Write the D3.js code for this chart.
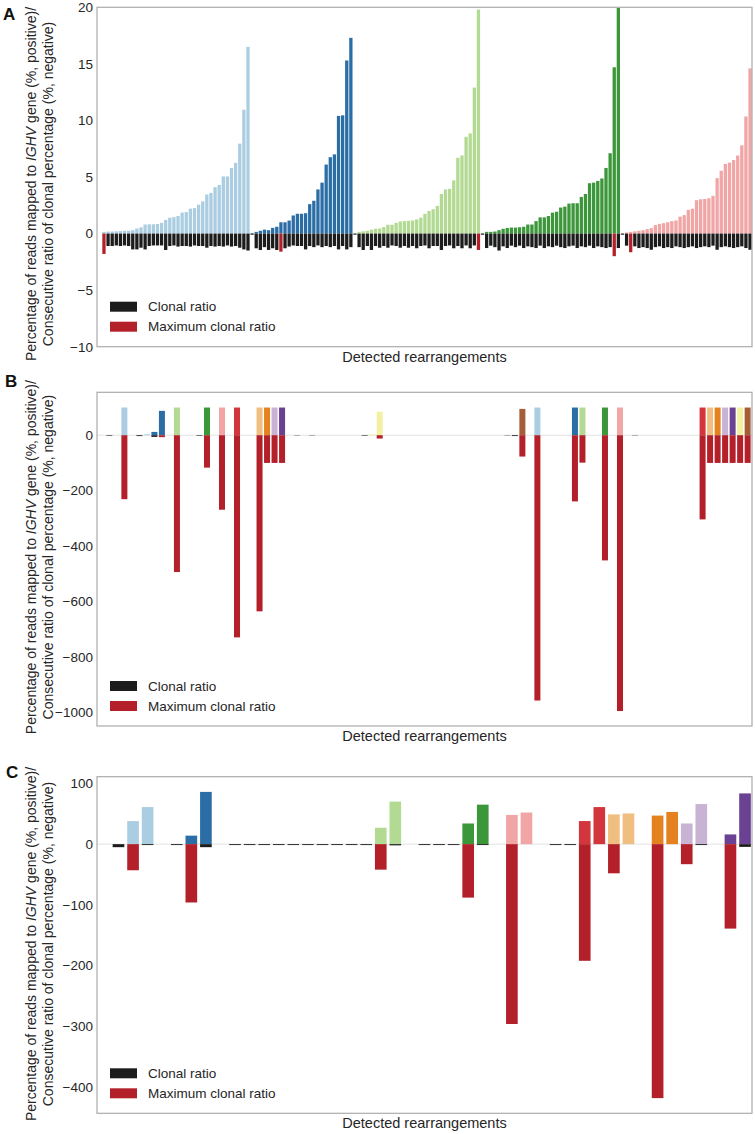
<!DOCTYPE html>
<html>
<head>
<meta charset="utf-8">
<script src="https://cdn.jsdelivr.net/npm/d3@7"></script>
<style>
  body { margin: 0; background: #fff; }
  svg { display: block; font-family: "Liberation Sans", Arial, sans-serif; }
</style>
</head>
<body>
<svg width="755" height="1134"></svg>
<script>
// Цвета групп перестроек
const groupColors = {
    lightblue: "#abcde2", darkblue: "#2b6ea6", lightgreen: "#b3da92", darkgreen: "#3c963a",
    pink: "#f1a5a5", red: "#d2353b", lightorange: "#f0be7e", orange: "#e5821f",
    lavender: "#c8b3d5", purple: "#6a4193", yellow: "#f4f0a2", brown: "#a65c36"
};
const clonalColor = "#1c1c1c";
const maxColor = "#b3202a";

// ---- Panel A ----
const aGroups = ["lightblue", "darkblue", "lightgreen", "darkgreen", "pink"];
const aPercent = [
    [0.15, 0.18, 0.18, 0.2, 0.22, 0.25, 0.25, 0.3, 0.45, 0.55, 0.8, 0.82, 0.82, 0.85, 0.95, 1.2, 1.4, 1.45,
     1.55, 1.85, 1.9, 2.2, 2.25, 2.55, 2.85, 3.45, 3.6, 4.1, 4.3, 5.05, 5.05, 5.8, 6.25, 7.95, 10.95, 16.5],
    [0.03, 0.15, 0.25, 0.35, 0.3, 0.5, 0.6, 1.0, 1.0, 1.15, 1.6, 1.75, 1.75, 1.8, 2.6, 2.9, 3.9, 4.5,
     6.1, 6.75, 7.0, 10.4, 10.45, 15.3, 17.3],
    [0.03, 0.15, 0.2, 0.25, 0.35, 0.42, 0.45, 0.57, 0.78, 0.78, 0.95, 1.07, 1.1, 1.13, 1.16, 1.25, 1.4,
     1.75, 2.0, 2.15, 2.45, 3.5, 3.9, 3.95, 4.7, 6.7, 6.9, 8.55, 8.85, 12.9, 19.8],
    [0.03, 0.15, 0.15, 0.18, 0.3, 0.42, 0.5, 0.53, 0.53, 0.56, 0.6, 0.8, 0.8, 1.1, 1.43, 1.43, 1.55,
     1.85, 1.93, 2.3, 2.38, 2.65, 2.68, 2.68, 3.24, 3.5, 4.45, 4.5, 4.65, 4.87, 5.8, 7.1, 14.7, 19.95],
    [0.03, 0.1, 0.15, 0.2, 0.25, 0.3, 0.4, 0.48, 0.75, 0.86, 0.92, 1.0, 1.1, 1.16, 1.5, 1.63, 2.1, 2.2,
     2.95, 3.03, 3.06, 3.12, 3.33, 4.9, 5.55, 6.15, 6.27, 6.5, 6.9, 7.8, 10.35, 14.6]
];
const aRatio = [
    [-1.8, -1.1, -1.1, -1.05, -1.1, -1.05, -1.1, -1.4, -1.4, -1.25, -1.4, -1.1, -1.05, -1.05, -1.05, -1.45,
     -1.1, -1.05, -1.15, -1.1, -1.1, -1.15, -1.05, -1.1, -1.1, -1.25, -1.1, -1.15, -1.1, -1.15, -1.05,
     -1.15, -1.1, -1.25, -1.4, -1.5],
    [-0.1, -1.3, -1.45, -1.2, -1.45, -1.3, -1.45, -1.6, -1.3, -1.15, -1.05, -1.1, -1.1, -1.4, -1.1, -1.2,
     -1.05, -1.2, -1.1, -1.2, -1.1, -1.4, -1.1, -1.4, -1.2],
    [-0.1, -1.2, -1.45, -1.1, -1.45, -1.1, -1.25, -1.1, -1.25, -1.05, -1.1, -1.25, -1.1, -1.25, -1.1, -1.3,
     -1.1, -1.05, -1.3, -1.1, -1.1, -1.45, -1.1, -1.05, -1.3, -1.1, -1.3, -1.05, -1.3, -1.05, -1.45],
    [-0.1, -1.28, -1.07, -1.2, -1.5, -1.13, -1.28, -1.07, -1.2, -1.07, -1.28, -1.13, -1.2, -1.28, -1.07,
     -1.28, -1.13, -1.2, -1.07, -1.2, -1.28, -1.13, -1.07, -1.28, -1.13, -1.2, -1.07, -1.28, -1.13, -1.2,
     -1.28, -1.2, -2.0, -1.28],
    [-0.1, -1.07, -1.65, -1.13, -1.28, -1.2, -1.28, -1.43, -1.2, -1.13, -1.28, -1.2, -1.28, -1.13, -1.2,
     -1.28, -1.2, -1.13, -1.28, -1.2, -1.13, -1.2, -1.07, -1.43, -1.2, -1.13, -1.2, -1.28, -1.2, -1.13,
     -1.28, -1.43]
];
const aMaxIndex = [0, 7, 30, 32, 2];
const aTicks = [20, 15, 10, 5, 0, -5, -10];

// ---- Panel B ----
const bCount = 86;
const bIndex   = [0, 2, 4, 5, 6, 7, 9, 12, 13, 15, 17, 20, 21, 22, 23, 25, 27, 34, 35, 36,
                  53, 54, 55, 57, 62, 63, 66, 68, 70, 79, 80, 81, 82, 83, 84, 85];
const bGroup   = [null, "lightblue", null, "lightblue", "darkblue", "darkblue", "lightgreen", null,
                  "darkgreen", "pink", "red", "lightorange", "orange", "lavender", "purple", null, null,
                  null, "yellow", "yellow", null, null, "brown", "lightblue", "darkblue", "lightgreen",
                  "darkgreen", "pink", null, "red", "lightorange", "orange", "lavender", "purple",
                  "yellow", "brown"];
const bPercent = [0, 100, 0, 3, 12, 88, 100, 0, 100, 100, 100, 100, 100, 100, 100, 0, 0, 0, 3, 85,
                  0, 0, 95, 100, 100, 100, 100, 100, 0, 100, 100, 100, 100, 100, 100, 100];
const bRatio   = [-2, -231, -3, 0, -6, -7, -494, -2, -117, -269, -730, -636, -100, -100, -100, -1, -1,
                  -2, 0, -12, -1, -3, -77, -958, -239, -99, -452, -996, -1, -304, -100, -100, -100,
                  -100, -100, -100];
const bIsMax   = [0, 1, 0, 0, 0, 1, 1, 0, 1, 1, 1, 1, 1, 1, 1, 0, 0, 0, 0, 1,
                  0, 0, 1, 1, 1, 1, 1, 1, 0, 1, 1, 1, 1, 1, 1, 1];
const bTicks = [0, -200, -400, -600, -800, -1000];

// ---- Panel C ----
const cCount = 44;
const cIndex   = [0, 1, 2, 4, 5, 6, 8, 9, 10, 11, 12, 13, 14, 15, 16, 17, 18, 19, 21, 22, 23, 24, 25,
                  27, 28, 30, 31, 32, 33, 34, 35, 37, 38, 39, 40, 42, 43];
const cGroup   = [null, "lightblue", "lightblue", null, "darkblue", "darkblue", null, null, null, null,
                  null, null, null, null, null, null, "lightgreen", "lightgreen", null, null, null,
                  "darkgreen", "darkgreen", "pink", "pink", null, null, "red", "red", "lightorange",
                  "lightorange", "orange", "orange", "lavender", "lavender", "purple", "purple"];
const cPercent = [0, 38, 61, 0, 14, 86, 0, 0, 0, 0, 0, 0, 0, 0, 0, 0, 27, 70, 0, 0, 0, 34, 65,
                  48, 52, 0, 0, 38, 61, 49, 50.5, 47, 53, 34, 66, 16, 83.5];
const cRatio   = [-5, -43, -1.5, -1.5, -96, -5, -1.5, -1.5, -1.5, -1.5, -1.5, -1.5, -1.5, -1.5, -1.5,
                  -1.5, -42, -2, -1.5, -1.5, -1.5, -88, -1.5, -296, 0, -1.5, -1.5, -192, 0, -48, 0,
                  -418, 0, -33, -1.5, -139, -4.5];
const cIsMax   = [0, 1, 0, 0, 1, 0, 0, 0, 0, 0, 0, 0, 0, 0, 0, 0, 1, 0, 0, 0, 0, 1, 0, 1, 0, 0, 0,
                  1, 0, 1, 0, 1, 0, 1, 0, 1, 0];
const cTicks = [100, 0, -100, -200, -300, -400];

// сборка строк для отрисовки
function rowsA() {
    let rows = [];
    aGroups.forEach((g, gi) => {
        aPercent[gi].forEach((v, k) => {
            rows.push({ i: rows.length, group: g, pct: v, ratio: aRatio[gi][k], isMax: k === aMaxIndex[gi] });
        });
    });
    return rows;
}

function rowsSparse(index, group, pct, ratio, isMax) {
    return index.map((i, k) => ({ i: i, group: group[k], pct: pct[k], ratio: ratio[k], isMax: isMax[k] === 1 }));
}

const svg = d3.select("svg");
const frameLeft = 97, frameRight = 752;

function drawPanel(cfg, rows, count) {
    const g = svg.append("g");

    const scX = d3.scaleBand()
        .domain(d3.range(count))
        .range(cfg.band)
        .paddingInner(0.2)
        .paddingOuter(0.1);

    const scY = d3.scaleLinear()
        .domain(cfg.yDomain)
        .range([cfg.bottom, cfg.top]);

    if (cfg.zeroLine) {
        g.append("line")
            .attr("x1", frameLeft).attr("x2", frameRight)
            .attr("y1", scY(0)).attr("y2", scY(0))
            .attr("stroke", "#e2e2e2").attr("stroke-width", 1);
    }

    // положительные столбцы (процент прочтений)
    g.selectAll(".pos")
        .data(rows.filter(d => d.pct > 0)).enter()
        .append("rect")
        .attr("class", "pos")
        .attr("x", d => scX(d.i))
        .attr("width", scX.bandwidth())
        .attr("y", d => scY(d.pct))
        .attr("height", d => scY(0) - scY(d.pct))
        .style("fill", d => d.group ? groupColors[d.group] : clonalColor);

    // отрицательные столбцы (отношение клональности)
    g.selectAll(".neg")
        .data(rows.filter(d => d.ratio < 0)).enter()
        .append("rect")
        .attr("class", "neg")
        .attr("x", d => scX(d.i))
        .attr("width", scX.bandwidth())
        .attr("y", scY(0))
        .attr("height", d => scY(d.ratio) - scY(0))
        .style("fill", d => d.isMax ? maxColor : clonalColor);

    // рамка
    g.append("rect")
        .attr("x", frameLeft).attr("y", cfg.top)
        .attr("width", frameRight - frameLeft).attr("height", cfg.bottom - cfg.top)
        .attr("fill", "none").attr("stroke", "#ababab").attr("stroke-width", 1.2);

    const axisY = d3.axisLeft(scY).tickValues(cfg.ticks).tickFormat(d3.format("d")).tickSize(0).tickPadding(4);
    const ax = g.append("g")
        .attr("transform", `translate(${frameLeft}, 0)`)
        .call(axisY);
    ax.select(".domain").remove();
    ax.selectAll("text")
        .style("font-family", "'Liberation Sans', Arial, sans-serif")
        .style("font-size", "13.5px")
        .style("fill", "#262626");

    // подпись оси X
    g.append("text")
        .attr("x", (frameLeft + frameRight) / 2)
        .attr("y", cfg.bottom + 15)
        .attr("text-anchor", "middle")
        .style("font-size", "14.5px")
        .style("fill", "#262626")
        .text("Detected rearrangements");

    // подпись оси Y (две строки)
    const midY = (cfg.top + cfg.bottom) / 2 + cfg.labelShift;
    const t1 = g.append("text")
        .attr("transform", `translate(36, ${midY}) rotate(-90)`)
        .attr("text-anchor", "middle")
        .style("font-size", "14px")
        .style("fill", "#262626");
    t1.append("tspan").text("Percentage of reads mapped to ");
    t1.append("tspan").style("font-style", "italic").text("IGHV");
    t1.append("tspan").text(" gene (%, positive)/");

    g.append("text")
        .attr("transform", `translate(53, ${midY}) rotate(-90)`)
        .attr("text-anchor", "middle")
        .style("font-size", "14px")
        .style("fill", "#262626")
        .text("Consecutive ratio of clonal percentage (%, negative)");

    // легенда
    const legend = [["Clonal ratio", clonalColor, 45], ["Maximum clonal ratio", maxColor, 25]];
    legend.forEach(([label, color, off]) => {
        g.append("rect")
            .attr("x", frameLeft + 13).attr("y", cfg.bottom - off)
            .attr("width", 27).attr("height", 10)
            .style("fill", color);
        g.append("text")
            .attr("x", frameLeft + 51).attr("y", cfg.bottom - off + 9.5)
            .style("font-size", "13.5px")
            .style("fill", "#262626")
            .text(label);
    });

    // буква панели
    g.append("text")
        .attr("x", cfg.letterX).attr("y", cfg.letterY)
        .style("font-size", "17px")
        .style("font-weight", "bold")
        .style("fill", "#111")
        .text(cfg.label);
}

drawPanel({ label: "A", letterX: 3, letterY: 20, top: 7.3, bottom: 346.7, yDomain: [-10, 20],
            ticks: aTicks, band: [101.9, 752.1], zeroLine: false, labelShift: 7 }, rowsA(), aPercent.flat().length);

drawPanel({ label: "B", letterX: 5, letterY: 387, top: 392.3, bottom: 726, yDomain: [-1050, 155],
            ticks: bTicks, band: [105.6, 751.4], zeroLine: true, labelShift: -2 },
          rowsSparse(bIndex, bGroup, bPercent, bRatio, bIsMax), bCount);

drawPanel({ label: "C", letterX: 6, letterY: 778, top: 776.7, bottom: 1113.3, yDomain: [-443, 111],
            ticks: cTicks, band: [111.2, 752.3], zeroLine: true, labelShift: -1 },
          rowsSparse(cIndex, cGroup, cPercent, cRatio, cIsMax), cCount);
</script>
</body>
</html>
